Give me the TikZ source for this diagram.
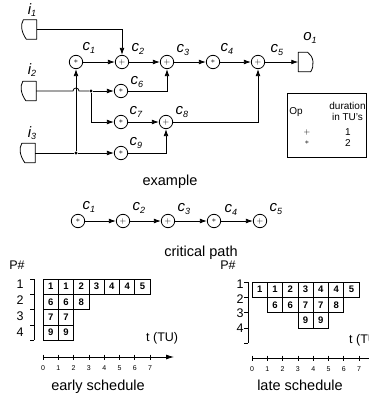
\documentclass[tikz,border=0pt]{standalone}
\usepackage{fontspec}
\setmainfont{Liberation Sans}
\usetikzlibrary{arrows.meta}
\newcommand\clab[2]{{\fontsize{15}{15}\selectfont\itshape #1\raisebox{-0.35ex}{\fontsize{9}{9}\selectfont #2}}}
\newcommand\opplus{{\fontsize{8}{8}\selectfont$+$}}
\newcommand\opstar{{\fontsize{8}{8}\selectfont$\ast$}}
\newcommand\drawinshape[1]{\draw[ln,line join=round] ([xshift=1pt]#1.north west) -- (#1.north east) -- (#1.south east) -- ([xshift=4pt]#1.south west) .. controls ([xshift=-1pt,yshift=7pt]#1.south west) and ([xshift=-2pt,yshift=-5pt]#1.north west) .. ([xshift=1pt]#1.north west) -- cycle;}
\newcommand\drawoutshape[1]{\draw[ln,line join=round] (#1.north west) -- ([xshift=-5pt]#1.north east) .. controls ([xshift=1pt,yshift=-4pt]#1.north east) and ([xshift=2pt,yshift=6pt]#1.south east) .. ([xshift=-2pt]#1.south east) -- (#1.south west) -- cycle;}
\begin{document}
\begin{tikzpicture}[x=1pt,y=-1pt,
  ln/.style={line width=0.8pt},
  arr/.style={ln,-{Latex[length=7pt,width=4.8pt]}},
  op/.style={circle,draw,line width=0.8pt,minimum size=13.4pt,inner sep=0pt},
  jdot/.style={circle,fill,inner sep=0pt,minimum size=3.2pt},
  lab/.style={inner sep=0pt},
  io/.style={minimum width=14pt,minimum height=19pt,inner sep=0pt},
  captxt/.style={inner sep=0pt,font=\fontsize{14.5}{14.5}\selectfont,anchor=base},
  cell/.style={draw,line width=0.7pt,minimum size=15.3pt,inner sep=0pt,font=\fontsize{9.5}{9.5}\selectfont\bfseries},
  tab/.style={inner sep=0pt,font=\fontsize{10}{11}\selectfont,align=center},
  axn/.style={inner sep=0pt,font=\fontsize{7}{7}\selectfont},
  rown/.style={inner sep=0pt,font=\fontsize{12.5}{12.5}\selectfont},
]
\useasboundingbox (0,0) rectangle (369,402);

% ---------- example graph ----------
\node[io] (I1) at (29.5,29.5) {};
\node[io] (I2) at (29,91) {};
\node[io] (I3) at (28,153) {};
\drawinshape{I1}
\drawinshape{I2}
\drawinshape{I3}
\node[lab] (li1) at (32,10) {\clab{i}{1}};
\node[lab] (li2) at (32,70) {\clab{i}{2}};
\node[lab] (li3) at (32,133) {\clab{i}{3}};

\node[op] (c1) at (76,62) {\opstar};
\node[op] (c2) at (122,62) {\opplus};
\node[op] (c3) at (167,62) {\opplus};
\node[op] (c4) at (213,62) {\opstar};
\node[op] (c5) at (258,62) {\opplus};
\node[op] (c6) at (121,91) {\opstar};
\node[op] (c7) at (121,122) {\opstar};
\node[op] (c8) at (166,122) {\opplus};
\node[op] (c9) at (121,153) {\opstar};

\node[lab] (l1) at (89,48) {\clab{c}{1}};
\node[lab] (l2) at (138,49) {\clab{c}{2}};
\node[lab] (l3) at (183,50) {\clab{c}{3}};
\node[lab] (l4) at (227,49) {\clab{c}{4}};
\node[lab] (l5) at (277,50) {\clab{c}{5}};
\node[lab] (l6) at (137,82) {\clab{c}{6}};
\node[lab] (l7) at (136,112) {\clab{c}{7}};
\node[lab] (l8) at (182,112) {\clab{c}{8}};
\node[lab] (l9) at (136,143) {\clab{c}{9}};

\node[io] (O1) at (305.5,62) {};
\drawoutshape{O1}
\node[lab] (lo1) at (310,38) {\clab{o}{1}};

\node[jdot] (D2) at (91,91) {};
\node[jdot] (D3) at (76,153) {};
\coordinate (hop) at (73,91);

\draw[arr] (I1.east) -| (c2);
\draw[arr] (c1) -- (c2);
\draw[arr] (c2) -- (c3);
\draw[arr] (c3) -- (c4);
\draw[arr] (c4) -- (c5);
\draw[arr] (c5) -- (O1.west);
\draw[ln] (I2.east) -- (hop) arc[start angle=180,end angle=0,radius=3pt] -- (D2);
\draw[arr] (D2) -- (c6);
\draw[arr] (D2) |- (c7);
\draw[arr] (c6) -| (c3);
\draw[arr] (c7) -- (c8);
\draw[arr] (c8) -| (c5);
\draw[ln] (I3.east) -- (D3);
\draw[arr] (D3) -- (c9);
\draw[arr] (D3) -- (c1);
\draw[arr] (c9) -| (c8);

% table
\node[draw,line width=0.8pt,minimum width=79pt,minimum height=64pt,inner sep=0pt] (tbl) at (326.5,125) {};
\node[tab] (top) at (296,112) {Op};
\node[tab] (tdur) at (347.5,111.5) {duration\\in TU's};
\node[tab] (tp) at (307,132) {\opplus};
\node[tab] (t1) at (348,132) {1};
\node[tab] (ts) at (307,143) {\opstar};
\node[tab] (t2) at (348,143) {2};

\node[captxt] (cex) at (170,185) {example};

% ---------- critical path ----------
\node[op] (k1) at (78,221) {\opstar};
\node[op] (k2) at (123,221) {\opplus};
\node[op] (k3) at (168,221) {\opplus};
\node[op] (k4) at (214,221) {\opstar};
\node[op] (k5) at (260,221) {\opplus};
\node[lab] (kl1) at (89,207) {\clab{c}{1}};
\node[lab] (kl2) at (139,208) {\clab{c}{2}};
\node[lab] (kl3) at (184,209) {\clab{c}{3}};
\node[lab] (kl4) at (231,210) {\clab{c}{4}};
\node[lab] (kl5) at (276,209) {\clab{c}{5}};
\draw[arr] (k1) -- (k2);
\draw[arr] (k2) -- (k3);
\draw[arr] (k3) -- (k4);
\draw[arr] (k4) -- (k5);
\node[captxt] (ccp) at (201,256) {critical path};

% ---------- early schedule ----------
\node[rown] (ep) at (17,265) {P\#};
\node[rown] (er1) at (20,284) {1};
\node[rown] (er2) at (20,300) {2};
\node[rown] (er3) at (20,316) {3};
\node[rown] (er4) at (20,332) {4};
\draw[ln] (34,279) -- (34,340.2);
\foreach \j in {0,...,4} \draw[ln] (30,279+15.3*\j) -- (34,279+15.3*\j);
\foreach \v [count=\k from 0] in {1,1,2,3,4,4,5}
  \node[cell] (ea\k) at (50.65+15.3*\k,286.65) {\v};
\foreach \v [count=\k from 0] in {6,6,8}
  \node[cell] (eb\k) at (50.65+15.3*\k,301.95) {\v};
\foreach \v [count=\k from 0] in {7,7}
  \node[cell] (ec\k) at (50.65+15.3*\k,317.25) {\v};
\foreach \v [count=\k from 0] in {9,9}
  \node[cell] (ed\k) at (50.65+15.3*\k,332.55) {\v};
\node[rown,anchor=west] (et) at (146,338) {t (TU)};
\coordinate (eax0) at (43,357);
\coordinate (eax1) at (174,357);
\draw[ln,-{Latex[length=8pt,width=5pt]}] (eax0) -- (eax1);
\foreach \k in {0,...,7} {
  \draw[ln] (43+15.3*\k,354.5) -- (43+15.3*\k,359.5);
  \node[axn] at (43+15.3*\k,368) {\k};
}
\node[captxt] (ces) at (98,390) {early schedule};

% ---------- late schedule ----------
\node[rown] (lp) at (228,265) {P\#};
\node[rown] (lr1) at (240,284) {1};
\node[rown] (lr2) at (240,299) {2};
\node[rown] (lr3) at (240,313) {3};
\node[rown] (lr4) at (240,328) {4};
\draw[ln] (248,282) -- (248,343.2);
\foreach \j in {0,...,4} \draw[ln] (244,282+15.3*\j) -- (248,282+15.3*\j);
\foreach \v [count=\k from 0] in {1,1,2,3,4,4,5}
  \node[cell] (la\k) at (259.65+15.3*\k,289.65) {\v};
\foreach \v [count=\k from 1] in {6,6,7,7,8}
  \node[cell] (lb\k) at (259.65+15.3*\k,304.95) {\v};
\foreach \v [count=\k from 3] in {9,9}
  \node[cell] (lc\k) at (259.65+15.3*\k,320.25) {\v};
\node[rown,anchor=west] (lt) at (349,340) {t (TU)};
\coordinate (lax0) at (252,358);
\coordinate (lax1) at (380,358);
\draw[ln,-{Latex[length=8pt,width=5pt]}] (lax0) -- (lax1);
\foreach \k in {0,...,7} {
  \draw[ln] (252+15.3*\k,355.5) -- (252+15.3*\k,360.5);
  \node[axn] at (252+15.3*\k,369) {\k};
}
\node[captxt] (cls) at (300,390) {late schedule};
\end{tikzpicture}
\end{document}
